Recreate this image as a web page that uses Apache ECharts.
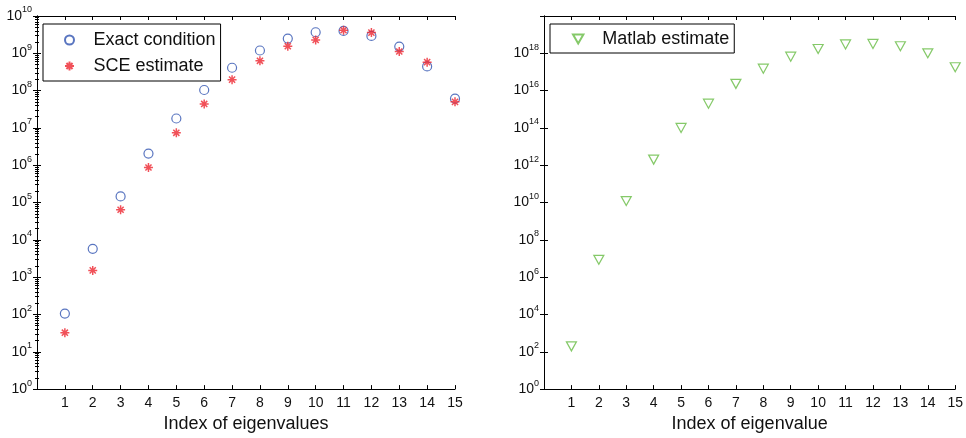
<!DOCTYPE html>
<html>
<head>
<meta charset="utf-8">
<script src="https://cdn.jsdelivr.net/npm/echarts@6/dist/echarts.min.js"></script>
<style>
  html, body { margin: 0; padding: 0; background: #fff; }
  #chart { width: 966px; height: 438px; }
</style>
</head>
<body>
<div id="chart"></div>
<script>
// eigenvalue index on the x axis of both panels
const indices = [1, 2, 3, 4, 5, 6, 7, 8, 9, 10, 11, 12, 13, 14, 15];
// left panel
const exactCondition = [106, 5750, 1.46e5, 2.05e6, 1.79e7, 1.04e8, 4.1e8, 1.19e9, 2.48e9, 3.67e9, 3.98e9, 2.93e9, 1.52e9, 4.46e8, 6.1e7];
const sceEstimate = [32.5, 1520, 6.4e4, 8.7e5, 7.4e6, 4.4e7, 1.97e8, 6.3e8, 1.55e9, 2.29e9, 4.15e9, 3.59e9, 1.12e9, 5.8e8, 5.0e7];
// right panel
const matlabEstimate = [195, 8.5e6, 1.2e10, 2e12, 1e14, 2e15, 2.3e16, 1.5e17, 6.6e17, 1.7e18, 3e18, 3.2e18, 2.4e18, 1e18, 1.8e17];

const FONT = '"Liberation Sans", Arial, Helvetica, sans-serif';
const BLUE = '#2f52b0';
const RED = '#ee2530';
const GREEN = '#66bb44';
const STAR = 'path://M5,0L5,10M0,5L10,5M1.6,1.6L8.4,8.4M8.4,1.6L1.6,8.4';

const toPoints = values => values.map((v, i) => [indices[i], v]);

const powLabel = maxExp => value => {
  const exp = Math.round(Math.log10(value));
  if (exp > maxExp) return '';
  return '{b|10}{s|' + exp + '}';
};

const labelRich = {
  b: { fontSize: 14, fontFamily: FONT, color: '#111' },
  s: { fontSize: 9, fontFamily: FONT, color: '#111', padding: [0, 0, 12, 0] }
};

const frameLine = { show: true, lineStyle: { color: '#000', width: 1 } };

const xAxisFor = (gridIndex, position) => ({
  type: 'value',
  gridIndex,
  position,
  min: 0,
  max: 15,
  interval: 1,
  splitLine: { show: false },
  axisLine: frameLine,
  axisTick: { inside: true, length: 4, lineStyle: { color: '#000' } },
  axisLabel: {
    show: position === 'bottom',
    margin: 7,
    fontSize: 14,
    fontFamily: FONT,
    color: '#111',
    formatter: v => (v === 0 ? '' : String(v))
  }
});

const yAxisFor = (gridIndex, position, maxVal, interval, maxExp, minor) => ({
  type: 'log',
  logBase: 10,
  gridIndex,
  position,
  min: 1,
  max: maxVal,
  interval,
  splitLine: { show: false },
  axisLine: frameLine,
  axisTick: { inside: true, length: 4, lineStyle: { color: '#000' } },
  minorTick: { show: minor, splitNumber: 9, length: 2, lineStyle: { color: '#000' } },
  axisLabel: {
    show: position === 'left',
    margin: 5,
    formatter: powLabel(maxExp),
    rich: labelRich
  }
});

const axisName = (gridIndex, name) => ({
  ...xAxisFor(gridIndex, 'bottom'),
  name,
  nameLocation: 'middle',
  nameGap: 25,
  nameTextStyle: { fontSize: 18, fontFamily: FONT, color: '#111' }
});

const chart = echarts.init(document.getElementById('chart'), null, { renderer: 'canvas' });

const option = {
  animation: false,
  backgroundColor: '#fff',
  grid: [
    { left: 37, right: 511, top: 16, bottom: 47 },
    { left: 544, right: 5, top: 16, bottom: 47 }
  ],
  xAxis: [
    axisName(0, 'Index of eigenvalues'),
    xAxisFor(0, 'top'),
    axisName(1, 'Index of eigenvalue'),
    xAxisFor(1, 'top')
  ],
  yAxis: [
    yAxisFor(0, 'left', 1e10, 1, 10, true),
    yAxisFor(0, 'right', 1e10, 1, 10, true),
    yAxisFor(1, 'left', 1e20, 2, 18, false),
    yAxisFor(1, 'right', 1e20, 2, 18, false)
  ],
  legend: [
    {
      data: ['Exact condition', 'SCE estimate'],
      orient: 'vertical',
      left: 43,
      top: 24,
      padding: [7, 5, 6, 21],
      itemGap: 8,
      itemWidth: 38,
      itemHeight: 9,
      borderColor: '#000',
      borderWidth: 1,
      textStyle: { fontSize: 18, fontFamily: FONT, color: '#111' }
    },
    {
      data: ['Matlab estimate'],
      orient: 'vertical',
      left: 550,
      top: 24,
      padding: [6, 5, 5, 22],
      itemWidth: 38,
      itemHeight: 9,
      borderColor: '#000',
      borderWidth: 1,
      textStyle: { fontSize: 18, fontFamily: FONT, color: '#111' }
    }
  ],
  series: [
    {
      name: 'Exact condition',
      type: 'scatter',
      xAxisIndex: 0,
      yAxisIndex: 0,
      symbol: 'circle',
      symbolSize: 9,
      clip: false,
      itemStyle: { color: 'rgba(0,0,0,0)', borderColor: BLUE, borderWidth: 1.2 },
      data: toPoints(exactCondition)
    },
    {
      name: 'SCE estimate',
      type: 'scatter',
      xAxisIndex: 0,
      yAxisIndex: 0,
      symbol: STAR,
      symbolSize: 9,
      clip: false,
      itemStyle: { color: RED, borderColor: RED, borderWidth: 1.5 },
      data: toPoints(sceEstimate)
    },
    {
      name: 'Matlab estimate',
      type: 'scatter',
      xAxisIndex: 2,
      yAxisIndex: 2,
      symbol: 'path://M0,0L10,0L5,8.66Z',
      symbolSize: [10, 9],
      clip: false,
      itemStyle: { color: 'rgba(0,0,0,0)', borderColor: GREEN, borderWidth: 1.2 },
      data: toPoints(matlabEstimate)
    }
  ]
};

chart.setOption(option);
</script>
</body>
</html>
